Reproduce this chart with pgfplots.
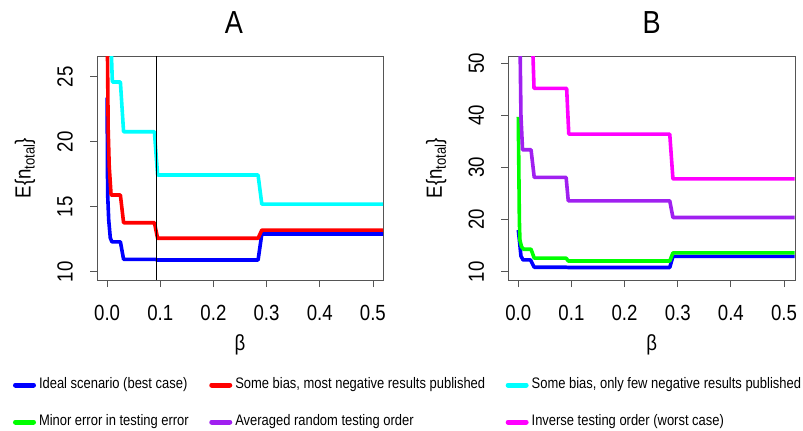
\documentclass[border=0pt]{standalone}
\usepackage{fontspec}
\setmainfont{Liberation Sans}[FakeStretch=0.85]
\usepackage{pgfplots}
\pgfplotsset{compat=1.18}
\definecolor{rblue}{HTML}{0000FF}
\definecolor{rred}{HTML}{FF0000}
\definecolor{rcyan}{HTML}{00FFFF}
\definecolor{rgreen}{HTML}{00FF00}
\definecolor{rpurple}{HTML}{A020F0}
\definecolor{rmagenta}{HTML}{FF00FF}
\definecolor{boxgray}{HTML}{555555}
\begin{document}
\begin{tikzpicture}
\path[use as bounding box] (0,0) rectangle (803bp,-431bp);
\pgfplotsset{
  panel/.style={
    scale only axis, height=224bp,
    axis line style={draw=boxgray, line width=0.8bp},
    tick pos=left, tick align=outside, major tick length=7bp,
    tick style={draw=boxgray, line width=0.8bp},
    /pgf/number format/assume math mode=true,
    /pgf/number format/fixed, /pgf/number format/precision=1,
    ticklabel style={font=\fontsize{22}{26}\selectfont, text=black},
    xticklabel style={anchor=center, yshift=-26bp},
    yticklabel style={xshift=-25bp, rotate=90, anchor=center},
    xtick={0,0.1,0.2,0.3,0.4,0.5},
    xticklabels={0.0,0.1,0.2,0.3,0.4,0.5},
    xlabel={β},
    xlabel style={at={([yshift=-65bp]axis description cs:0.5,0)}, anchor=center, font=\fontsize{22}{26}\selectfont},
    ylabel={E\{n\textsubscript{total}\}},
    ylabel style={at={([xshift=-72bp]axis description cs:0,0.5)}, rotate=0, anchor=center, font=\fontsize{22}{26}\selectfont},
    every axis plot/.append style={line width=3.6bp, line join=round},
  }
}
% Panel A
\begin{axis}[panel, at={(97bp,-280bp)}, anchor=south west, width=286bp,
  xmin=-0.019, xmax=0.519, ymin=9.36, ymax=26.6,
  ytick={10,15,20,25}, yticklabels={10,15,20,25},
  title={A},
  title style={at={([xshift=-6bp, yshift=27bp]axis description cs:0.5,1)}, anchor=center, font=\fontsize{32}{36}\selectfont},
  legend columns=3,
  legend style={at={(-84bp,-99bp)}, anchor=north west, draw=none, fill=none,
    inner sep=0pt, outer sep=0pt, row sep=25bp,
    font=\fontsize{15.3}{17}\selectfont,
    nodes={inner sep=0pt, text height=9bp, text depth=3bp},
    /tikz/every odd column/.append style={column sep=3bp},
    /tikz/every even column/.append style={column sep=20.5bp}},
  legend cell align=left,
  legend image code/.code={\draw[#1, line width=5bp, line cap=round] (0bp,0bp) -- (18bp,0bp);},
]
\addplot[rblue] coordinates {(0,23.4) (0.001,16) (0.003,14) (0.006,12.6) (0.009,12.3) (0.025,12.3) (0.031,10.95) (0.090,10.95) (0.095,10.9) (0.284,10.9) (0.291,12.9) (0.52,12.9)};
\addlegendentry{Ideal scenario (best case)}
\addplot[rred] coordinates {(0,30) (0.002,21) (0.004,18.1) (0.0075,15.9) (0.025,15.9) (0.031,13.77) (0.089,13.77) (0.095,12.57) (0.284,12.57) (0.291,13.2) (0.52,13.2)};
\addlegendentry{Some bias, most negative results published}
\addplot[rcyan] coordinates {(0.0070,28) (0.0099,24.6) (0.025,24.6) (0.031,20.77) (0.089,20.77) (0.095,17.44) (0.284,17.44) (0.291,15.2) (0.52,15.2)};
\addlegendentry{Some bias, only few negative results published}
\addlegendimage{rgreen}
\addlegendentry{Minor error in testing error}
\addlegendimage{rpurple}
\addlegendentry{Averaged random testing order}
\addlegendimage{rmagenta}
\addlegendentry{Inverse testing order (worst case)}
\addplot[black, line width=0.8bp, forget plot] coordinates {(0.0935,9.36) (0.0935,26.6)};
\end{axis}
% Panel B
\begin{axis}[panel, at={(508.3bp,-280bp)}, anchor=south west, width=286.7bp,
  xmin=-0.0188, xmax=0.5207, ymin=8.4, ymax=51.4,
  ytick={10,20,30,40,50}, yticklabels={10,20,30,40,50},
  title={B},
  title style={at={([yshift=27bp]axis description cs:0.5,1)}, anchor=center, font=\fontsize{32}{36}\selectfont},
]
\addplot[rblue] coordinates {(0,18) (0.002,16.1) (0.005,13) (0.009,12.25) (0.023,12.25) (0.030,10.85) (0.090,10.85) (0.094,10.8) (0.285,10.8) (0.291,12.95) (0.52,12.95)};
\addplot[rgreen] coordinates {(0,39.7) (0.001,30) (0.002,20) (0.003,16.1) (0.006,14.8) (0.010,14.3) (0.024,14.3) (0.030,12.6) (0.090,12.6) (0.094,12.05) (0.285,12.05) (0.291,13.6) (0.52,13.6)};
\addplot[rpurple] coordinates {(0.0025,60) (0.005,40) (0.008,33.4) (0.024,33.4) (0.030,28.1) (0.090,28.1) (0.094,23.6) (0.285,23.6) (0.291,20.4) (0.52,20.4)};
\addplot[rmagenta] coordinates {(0.025,60) (0.0296,45.2) (0.091,45.2) (0.095,36.4) (0.285,36.4) (0.291,27.8) (0.52,27.8)};
\end{axis}
\end{tikzpicture}
\end{document}
